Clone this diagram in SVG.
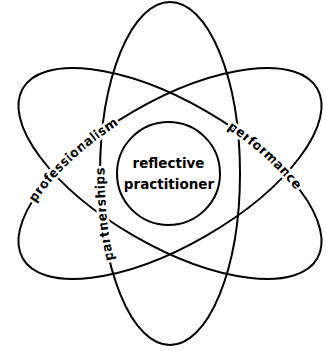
<svg xmlns="http://www.w3.org/2000/svg" width="326" height="351" viewBox="0 0 326 351">
  <style>
    .orbit { fill: none; stroke: #000; stroke-width: 2; }
    .lbl { font-family: "DejaVu Sans", "Liberation Sans", sans-serif; font-weight: bold; font-size: 13px; fill: #000; }
    .halo { stroke: #fff; stroke-width: 5; stroke-linejoin: round; paint-order: stroke; }
  </style>
  <defs>
    <path id="pPerf" d="M206,111.15 A170,72 30 0 1 313.08,210.83"/>
    <path id="pProf" d="M24.51,215.93 A170,72 -30 0 1 131.43,112.64"/>
    <path id="pPart" d="M117.14,283.74 A70,171.5 0 0 1 102.05,143.72"/>
  </defs>
  <rect width="326" height="351" fill="#fff"/>
  <g id="connectors">
    <ellipse id="orbit-vertical" class="orbit" cx="170" cy="173.5" rx="70" ry="171.5"/>
    <ellipse id="orbit-a" class="orbit" cx="170" cy="173.5" rx="170" ry="72" transform="rotate(30 170 173.5)"/>
    <ellipse id="orbit-b" class="orbit" cx="170" cy="173.5" rx="170" ry="72" transform="rotate(-30 170 173.5)"/>
  </g>
  <g id="performance">
    <text class="lbl halo" dy="3.5"><textPath href="#pPerf" startOffset="50%" text-anchor="middle">performance</textPath></text>
  </g>
  <g id="professionalism">
    <text class="lbl halo" dy="3.5"><textPath href="#pProf" startOffset="50%" text-anchor="middle">professionalism</textPath></text>
  </g>
  <g id="partnerships">
    <text class="lbl halo" dy="3.5"><textPath href="#pPart" startOffset="50%" text-anchor="middle">partnerships</textPath></text>
  </g>
  <g id="reflective-practitioner">
    <circle cx="168.5" cy="173.5" r="51.5" fill="#fff" stroke="#000" stroke-width="2"/>
    <text class="lbl" font-size="13.5" x="168.5" y="168" text-anchor="middle" style="font-size:13.5px">reflective</text>
    <text class="lbl" x="169" y="189" text-anchor="middle" style="font-size:13.5px">practitioner</text>
  </g>
</svg>
